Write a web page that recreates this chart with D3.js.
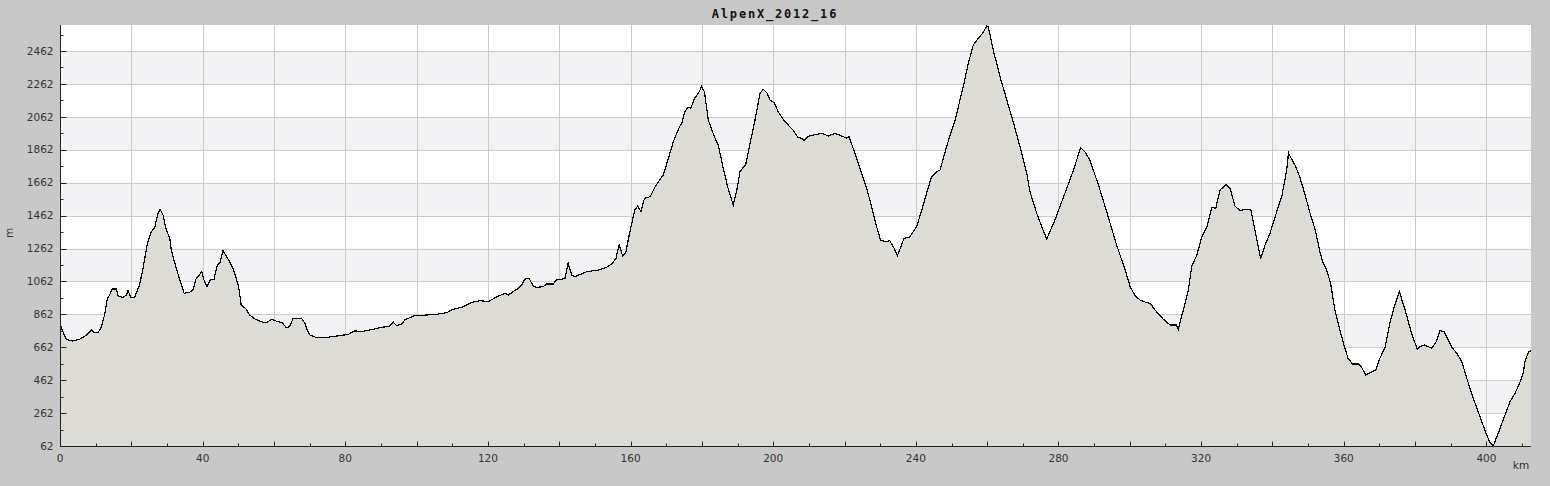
<!DOCTYPE html>
<html>
<head>
<meta charset="utf-8">
<script src="https://cdn.jsdelivr.net/npm/d3@7"></script>
<style>
  html, body { margin: 0; padding: 0; background: #c8c8c8; }
  svg { display: block; }
</style>
</head>
<body>
<svg id="chart" width="1550" height="486"></svg>
<script>
const title = "AlpenX_2012_16";
const xLabel = "km";
const yLabel = "m";
const xTickValues = [0, 40, 80, 120, 160, 200, 240, 280, 320, 360, 400];
const yTickValues = [62, 262, 462, 662, 862, 1062, 1262, 1462, 1662, 1862, 2062, 2262, 2462];

const distanceKm = [
  0, 0.2, 0.8, 1.8, 3.6, 5.5, 7.4, 8.8, 9.7, 10.7, 11.6, 12.5, 13.3, 13.9, 14.6, 15.8, 16.3, 17.7, 18.6, 19.1, 19.8, 20.9,
  22.3, 23.3, 24.5, 25.6, 26.5, 27.5, 28.1, 28.9, 29.8, 30.8, 31.2, 32.6, 33.6, 34.8, 36.4, 37.3, 38.2, 39.2, 39.8, 40.3,
  41.2, 42.2, 43.2, 44.1, 44.8, 45.7, 46.6, 47.6, 48.5, 49.4, 50.1, 50.8, 52.0, 53.2, 54.6, 56.5, 57.9, 59.3, 61.1, 62.3,
  63.5, 64.4, 65.3, 67.7, 68.6, 69.3, 70.1, 72.0, 74.8, 77.6, 80.8, 82.7, 84.1, 86.9, 89.7, 92.5, 93.5, 94.4, 95.8, 96.7,
  99.1, 102.8, 105.6, 108.4, 110.3, 113.1, 115.4, 117.8, 120.1, 122.5, 124.8, 125.7, 127.1, 128.5, 129.5, 130.4, 131.6,
  132.7, 133.7, 135.5, 136.5, 138.3, 139.3, 140.7, 141.6, 142.5, 143.5, 144.4, 147.7, 151.0, 153.3, 154.7, 155.9, 156.8,
  157.8, 158.6, 159.8, 161.2, 162.0, 162.9, 163.9, 165.5, 166.9, 168.3, 169.2, 170.6, 172.0, 173.4, 174.5, 175.1, 176.0,
  176.9, 177.9, 179.0, 179.9, 180.7, 181.8, 183.5, 184.6, 186.0, 187.2, 188.8, 189.8, 190.7, 192.3, 193.5, 194.9, 196.3,
  197.2, 198.2, 199.1, 200.3, 201.4, 203.3, 205.4, 206.9, 208.0, 208.6, 209.6, 210.8, 213.6, 215.5, 217.3, 219.2, 220.6,
  221.3, 222.9, 224.8, 226.2, 227.6, 229.0, 230.1, 231.6, 232.7, 233.9, 234.8, 235.8, 236.7, 238.2, 240.2, 241.4, 243.0,
  244.4, 245.8, 246.8, 248.6, 251.0, 253.3, 254.7, 256.1, 257.5, 258.7, 259.9, 260.3, 261.7, 263.6, 265.5, 267.3, 269.2,
  271.1, 272.0, 273.9, 275.3, 276.7, 279.0, 281.8, 284.2, 286.2, 287.4, 288.8, 291.2, 293.5, 296.3, 298.7, 300.1, 301.5,
  302.9, 304.7, 305.7, 307.1, 309.4, 311.3, 313.0, 313.6, 315.0, 316.4, 317.4, 318.8, 320.2, 321.6, 323.0, 324.1, 325.3,
  327.0, 328.1, 329.5, 330.9, 332.3, 333.9, 335.1, 336.7, 337.9, 339.3, 341.2, 342.6, 344.0, 344.5, 345.0, 346.3, 347.6,
  349.0, 350.5, 352.0, 353.4, 354.1, 355.2, 356.3, 357.5, 358.9, 360.3, 361.2, 362.5, 364.1, 365.0, 366.2, 367.3, 369.0,
  370.1, 371.5, 372.9, 374.3, 375.6, 377.2, 379.0, 380.6, 381.4, 382.5, 384.7, 385.9, 387.0, 388.1, 388.9, 390.3, 391.7,
  393.1, 394.5, 396.3, 398.2, 399.9, 401.0, 401.9, 403.3, 404.7, 406.6, 408.0, 409.3, 410.3, 410.9, 411.9, 412.5
];
const elevationM = [
  800, 797, 756, 710, 700, 710, 736, 767, 750, 750, 787, 858, 959, 979, 1016, 1016, 973, 965, 979, 1006, 965, 965,
  1040, 1142, 1294, 1364, 1385, 1476, 1500, 1465, 1374, 1324, 1253, 1142, 1071, 990, 996, 1010, 1081, 1105, 1121, 1075,
  1030, 1075, 1075, 1162, 1172, 1249, 1216, 1182, 1142, 1081, 1030, 919, 899, 858, 834, 817, 811, 832, 817, 811,
  781, 787, 834, 838, 811, 767, 736, 720, 722, 730, 740, 762, 756, 767, 781, 791, 814, 793, 803, 828,
  852, 858, 862, 872, 893, 908, 935, 945, 939, 969, 990, 979, 1000, 1020, 1040, 1077, 1079,
  1034, 1026, 1030, 1046, 1046, 1075, 1075, 1081, 1172, 1101, 1091, 1121, 1131, 1148, 1168, 1202, 1283,
  1216, 1233, 1364, 1496, 1520, 1486, 1567, 1577, 1638, 1683, 1709, 1810, 1911, 1986, 2032, 2087, 2120,
  2114, 2175, 2205, 2245, 2215, 2043, 1941, 1891, 1749, 1638, 1526, 1617, 1729, 1774, 1901, 2043, 2205,
  2229, 2209, 2164, 2148, 2093, 2032, 1986, 1938, 1932, 1917, 1941, 1950, 1962, 1946, 1962, 1946, 1932,
  1941, 1840, 1719, 1628, 1516, 1394, 1314, 1303, 1309, 1263, 1218, 1273, 1324, 1330, 1394, 1476, 1597,
  1698, 1729, 1739, 1881, 2043, 2245, 2387, 2498, 2539, 2569, 2614, 2610, 2468, 2306, 2164, 2032, 1881,
  1719, 1607, 1476, 1394, 1320, 1435, 1597, 1739, 1874, 1850, 1800, 1648, 1486, 1283, 1131, 1030, 975,
  949, 933, 929, 888, 832, 797, 797, 773, 888, 1010, 1156, 1222, 1334, 1394, 1512, 1506, 1617,
  1652, 1627, 1520, 1492, 1500, 1500, 1374, 1198, 1283, 1354, 1486, 1577, 1739, 1844, 1820, 1770, 1700,
  1600, 1480, 1374, 1233, 1182, 1131, 1051, 888, 767, 656, 595, 560, 560, 540, 493, 507, 524,
  595, 656, 807, 919, 999, 888, 747, 650, 665, 676, 656, 696, 763, 756, 722, 662, 625,
  574, 473, 352, 240, 139, 82, 62, 139, 220, 331, 382, 443, 504, 585, 635, 641
];

const W = 1550, H = 486;
const margin = { top: 25, right: 19, bottom: 40, left: 60 };
const iw = W - margin.left - margin.right;
const ih = H - margin.top - margin.bottom;

const svg = d3.select("#chart");
const x = d3.scaleLinear().domain([0, 412.5]).range([0, iw]);
const y = d3.scaleLinear().domain([62, 2620]).range([ih, 0]);

const g = svg.append("g").attr("transform", `translate(${margin.left},${margin.top})`);

g.append("rect").attr("width", iw).attr("height", ih).attr("fill", "#ffffff");

const bands = [];
for (let i = 0; i < yTickValues.length - 1; i++) {
  if (i % 2 === 1) bands.push([yTickValues[i], yTickValues[i + 1]]);
}
g.selectAll("rect.band").data(bands).enter().append("rect")
  .attr("class", "band")
  .attr("x", 0).attr("width", iw)
  .attr("y", d => y(d[1])).attr("height", d => y(d[0]) - y(d[1]))
  .attr("fill", "#f3f2f4");

const xGrid = d3.range(20, 412, 20);
g.selectAll("line.vg").data(xGrid).enter().append("line")
  .attr("x1", d => Math.round(x(d)) + 0.5).attr("x2", d => Math.round(x(d)) + 0.5)
  .attr("y1", 0).attr("y2", ih)
  .attr("stroke", "#cbcbcb").attr("stroke-width", 1);
g.selectAll("line.hg").data(yTickValues.slice(1)).enter().append("line")
  .attr("x1", 0).attr("x2", iw)
  .attr("y1", d => Math.round(y(d)) + 0.5).attr("y2", d => Math.round(y(d)) + 0.5)
  .attr("stroke", "#cbcbcb").attr("stroke-width", 1);

const pts = distanceKm.map((d, i) => [d, elevationM[i]]);
const area = d3.area().x(d => x(d[0])).y0(ih).y1(d => y(d[1]));
const line = d3.line().x(d => x(d[0])).y(d => y(d[1]));
g.append("path").datum(pts).attr("d", area).attr("fill", "#dcdbd6");
g.append("path").datum(pts).attr("d", line).attr("fill", "none")
  .attr("stroke", "#000").attr("stroke-width", 1.2).attr("shape-rendering", "crispEdges");

const font = "DejaVu Sans, sans-serif";
const yMinor = d3.range(162, 2620, 200);
const yAxis = g.append("g").attr("transform", "translate(0.5,0)");
yAxis.append("line").attr("x1", 0).attr("x2", 0).attr("y1", 0).attr("y2", ih).attr("stroke", "#222");
yAxis.selectAll("line.maj").data(yTickValues).enter().append("line")
  .attr("x1", 0).attr("x2", 6).attr("y1", d => Math.round(y(d)) + 0.5).attr("y2", d => Math.round(y(d)) + 0.5).attr("stroke", "#222");
yAxis.selectAll("line.min").data(yMinor).enter().append("line")
  .attr("x1", 0).attr("x2", 3).attr("y1", d => Math.round(y(d)) + 0.5).attr("y2", d => Math.round(y(d)) + 0.5).attr("stroke", "#222");
yAxis.selectAll("text").data(yTickValues).enter().append("text")
  .attr("x", -7).attr("y", d => y(d)).attr("dy", "0.35em")
  .attr("text-anchor", "end").attr("font-family", font).attr("font-size", 10.5).attr("fill", "#333")
  .text(d => d);

const xMinor = d3.range(10, 412, 20);
const xMaj = d3.range(0, 412, 20);
const xAxis = g.append("g").attr("transform", `translate(0,${ih + 0.5})`);
xAxis.append("line").attr("x1", 0).attr("x2", iw).attr("y1", 0).attr("y2", 0).attr("stroke", "#222");
xAxis.selectAll("line.maj").data(xMaj).enter().append("line")
  .attr("x1", d => Math.round(x(d)) + 0.5).attr("x2", d => Math.round(x(d)) + 0.5).attr("y1", 0).attr("y2", -5).attr("stroke", "#222");
xAxis.selectAll("line.min").data(xMinor).enter().append("line")
  .attr("x1", d => Math.round(x(d)) + 0.5).attr("x2", d => Math.round(x(d)) + 0.5).attr("y1", 0).attr("y2", -3).attr("stroke", "#222");
xAxis.selectAll("text").data(xTickValues).enter().append("text")
  .attr("x", d => x(d)).attr("y", 15)
  .attr("text-anchor", "middle").attr("font-family", font).attr("font-size", 10.5).attr("fill", "#333")
  .text(d => d);

svg.append("text").attr("x", 1521).attr("y", 469).attr("text-anchor", "middle")
  .attr("font-family", font).attr("font-size", 10.5).attr("fill", "#333").text(xLabel);
svg.append("text").attr("transform", "translate(13,233) rotate(-90)").attr("text-anchor", "middle")
  .attr("font-family", font).attr("font-size", 10.5).attr("fill", "#333").text(yLabel);
svg.append("text").attr("x", 775).attr("y", 18).attr("text-anchor", "middle")
  .attr("font-family", "DejaVu Sans Mono, monospace").attr("font-size", 12).attr("letter-spacing", 1.8)
  .attr("font-weight", "bold").attr("fill", "#111").text(title);
</script>
</body>
</html>
